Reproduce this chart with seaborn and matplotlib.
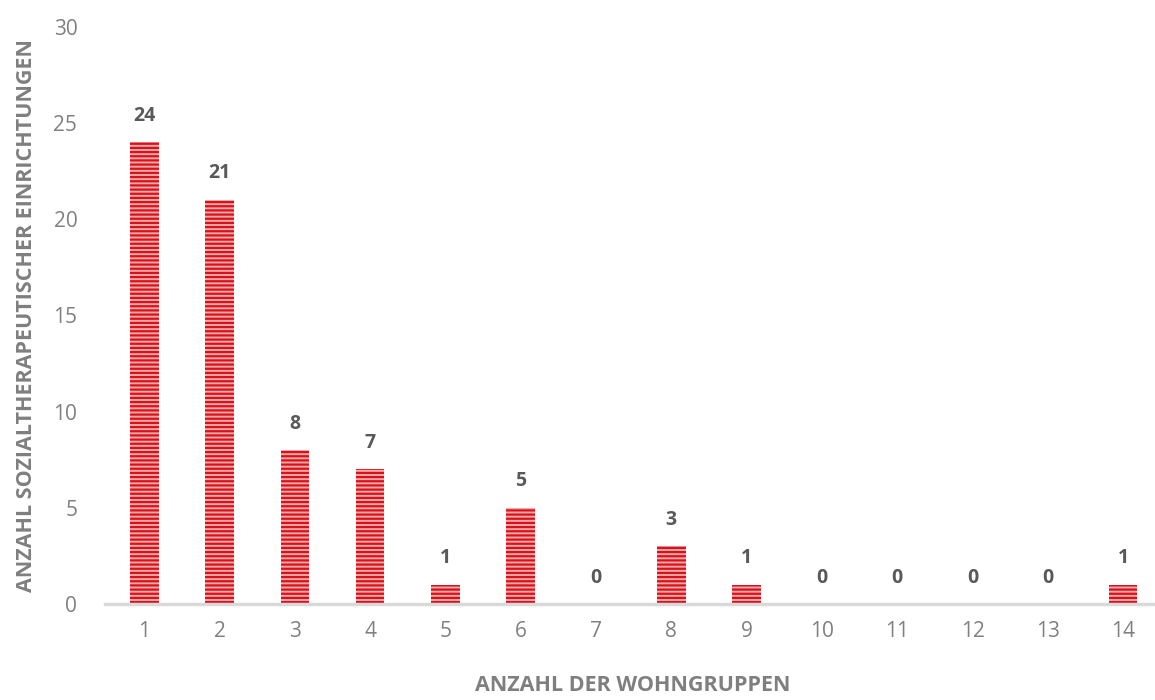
import matplotlib
matplotlib.use("Agg")
import matplotlib.pyplot as plt
import pandas as pd
import seaborn as sns

groups = [str(i) for i in range(1, 15)]
counts = [24, 21, 8, 7, 1, 5, 0, 3, 1, 0, 0, 0, 0, 1]

sns.set_style("white")
plt.rcParams["font.family"] = ["Open Sans", "DejaVu Sans"]
plt.rcParams["hatch.linewidth"] = 1.6

df = pd.DataFrame({"gruppen": groups, "anzahl": counts})

fig = plt.figure(figsize=(11.55, 7), dpi=100)
ax = fig.add_axes([0.091, 0.137, 0.914, 0.825])
sns.barplot(data=df, x="gruppen", y="anzahl", color="#f6aaaa", width=0.38,
            saturation=1, ax=ax)
for p in ax.patches:
    p.set_hatch("----")
    p.set_edgecolor("#d8111b")
    p.set_linewidth(0)

for i, v in enumerate(counts):
    ax.text(i, v + 0.85, str(v), ha="center", va="bottom", fontsize=14,
            fontweight="bold", color="#595959")

ax.set_ylim(0, 30)
ax.set_xlim(-0.52, 13.5)
ax.set_yticks(range(0, 31, 5))
ax.tick_params(axis="both", length=0, labelsize=15, labelcolor="#808080")
ax.tick_params(axis="x", pad=12)
ax.tick_params(axis="y", pad=20)
for s in ["top", "right", "left"]:
    ax.spines[s].set_visible(False)
ax.spines["bottom"].set_color("#d9d9d9")
ax.spines["bottom"].set_linewidth(2.5)

ax.set_xlabel("ANZAHL DER WOHNGRUPPEN", fontsize=15.5, fontweight="bold",
              color="#7f7f7f", labelpad=24)
ax.set_ylabel("ANZAHL SOZIALTHERAPEUTISCHER EINRICHTUNGEN", fontsize=15.5,
              fontweight="bold", color="#7f7f7f", labelpad=12)

fig.savefig("out.png", dpi=100)
